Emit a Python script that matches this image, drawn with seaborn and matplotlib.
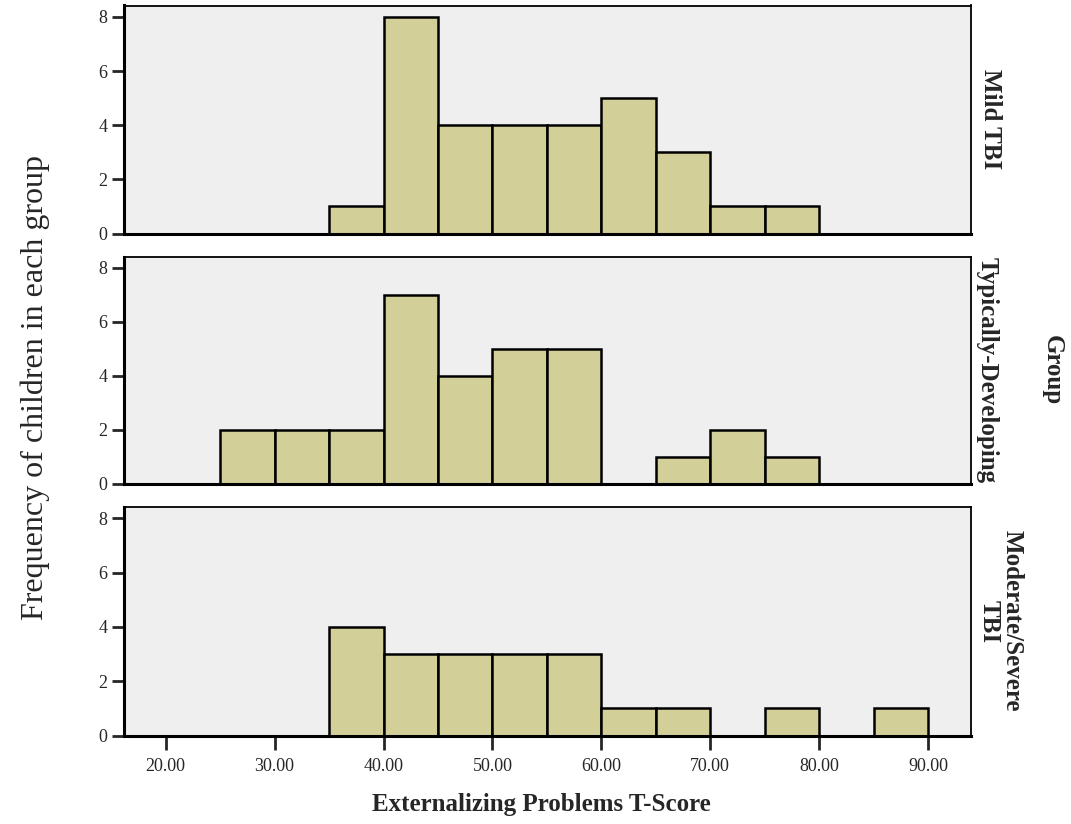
import numpy as np
import pandas as pd
import matplotlib
matplotlib.use("Agg")
import matplotlib.pyplot as plt
import seaborn as sns

# ---- data (counts per 5-point bin) ----
bin_starts = [15, 20, 25, 30, 35, 40, 45, 50, 55, 60, 65, 70, 75, 80, 85]
groups = ["Mild TBI", "Typically-Developing", "Moderate/Severe\nTBI"]
mild_counts = [0, 0, 0, 0, 1, 8, 4, 4, 4, 5, 3, 1, 1, 0, 0]
typical_counts = [0, 0, 2, 2, 2, 7, 4, 5, 5, 0, 1, 2, 1, 0, 0]
modsev_counts = [0, 0, 0, 0, 4, 3, 3, 3, 3, 1, 1, 0, 1, 0, 1]
x_ticks = [20, 30, 40, 50, 60, 70, 80, 90]
x_tick_labels = ["20.00", "30.00", "40.00", "50.00", "60.00", "70.00", "80.00", "90.00"]
y_ticks = [0, 2, 4, 6, 8]

BINW = 5
all_counts = [mild_counts, typical_counts, modsev_counts]

sns.set_style("white")
plt.rcParams["font.family"] = ["Liberation Serif", "DejaVu Serif"]

fig = plt.figure(figsize=(10.71, 8.24), dpi=100)
W, H = 1071, 824
left, right = 124, 970.5
panels = [(5.5, 233.5), (256.5, 484), (507, 735.5)]
label_x = [990, 987, 1001]

fill = "#d3cf99"
bg = "#efefef"

for i, (top, bot) in enumerate(panels):
    ax = fig.add_axes([left / W, 1 - bot / H, (right - left) / W, (bot - top) / H])
    df = pd.DataFrame({"x": [b + BINW / 2 for b in bin_starts],
                       "w": [float(c) for c in all_counts[i]]})
    sns.histplot(data=df, x="x", weights="w", binwidth=BINW, binrange=(15, 90),
                 color=fill, alpha=1, edgecolor="black", linewidth=1.8, ax=ax)
    ax.set_facecolor(bg)
    ax.set_xlim(16.17, 93.9)
    ax.set_ylim(0, 8.42)
    ax.set_yticks(y_ticks)
    ax.set_yticklabels([str(v) for v in y_ticks], fontsize=13)
    ax.set_xlabel("")
    ax.set_ylabel("")
    for s in ["top", "right"]:
        ax.spines[s].set_linewidth(1.3)
        ax.spines[s].set_color("black")
    for s in ["left", "bottom"]:
        ax.spines[s].set_linewidth(2.2)
        ax.spines[s].set_color("black")
    ax.tick_params(axis="y", direction="out", length=9, width=2, pad=3, left=True)
    if i < 2:
        ax.set_xticks([])
    else:
        ax.set_xticks(x_ticks)
        ax.set_xticklabels(x_tick_labels, fontsize=13)
        ax.tick_params(axis="x", direction="out", length=10, width=2, pad=6, bottom=True)
    fig.text(label_x[i] / W, 1 - (top + bot) / 2 / H, groups[i],
             rotation=-90, ha="center", va="center", fontsize=18, fontweight="bold",
             linespacing=1.0)

fig.text(1052 / W, 1 - 370 / H, "Group", rotation=-90, ha="center", va="center",
         fontsize=18, fontweight="bold")
fig.text(35 / W, 1 - 387 / H, "Frequency of children in each group", rotation=90,
         ha="center", va="center", fontsize=23)
fig.text(541 / W, 1 - 804 / H, "Externalizing Problems T-Score", ha="center", va="center",
         fontsize=18, fontweight="bold")

fig.savefig("out.png", dpi=100, facecolor="white")
